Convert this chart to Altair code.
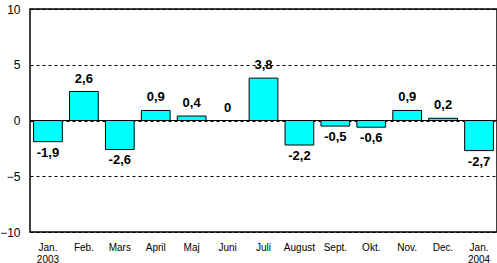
import altair as alt
import pandas as pd

months = ["Jan.|2003", "Feb.", "Mars", "April", "Maj", "Juni", "Juli",
          "August", "Sept.", "Okt.", "Nov.", "Dec.", "Jan.|2004"]
values = [-1.9, 2.6, -2.6, 0.9, 0.4, 0.0, 3.8, -2.2, -0.5, -0.6, 0.9, 0.2, -2.7]
labels = ["-1,9", "2,6", "-2,6", "0,9", "0,4", "0", "3,8", "-2,2", "-0,5",
          "-0,6", "0,9", "0,2", "-2,7"]
y_ticks = [-10, -5, 0, 5, 10]

df = pd.DataFrame({"month": months, "value": values, "label": labels})

FONT = "Liberation Sans"

x = alt.X("month:N", sort=months, title=None,
          scale=alt.Scale(paddingInner=0.2, paddingOuter=0.1),
          axis=alt.Axis(labelExpr="split(datum.label, '|')", labelAngle=0,
                        ticks=False, domain=False, labelFontSize=10,
                        labelFont=FONT, labelColor="black", labelPadding=10,
                        labelLineHeight=12, labelBaseline="top"))
y = alt.Y("value:Q", title=None,
          scale=alt.Scale(domain=[-10, 10], nice=False, zero=False),
          axis=alt.Axis(values=y_ticks, ticks=False, domain=False,
                        labelFontSize=12, labelFont=FONT, labelColor="black",
                        labelPadding=10, grid=True, gridColor="black",
                        gridDash=[3, 3], gridWidth=1, gridOpacity=1))

base = alt.Chart(df)

bars = base.mark_bar(color="#00FFFF", stroke="black", strokeWidth=1).encode(
    x=x, y=y, y2=alt.datum(0))

zero = alt.Chart(pd.DataFrame({"z": [0]})).mark_rule(color="black", strokeWidth=1).encode(
    y=alt.Y("z:Q", scale=alt.Scale(domain=[-10, 10], nice=False)))

pos = base.transform_filter("datum.value >= 0").mark_text(
    baseline="bottom", dy=-6, fontWeight="bold", fontSize=13, font=FONT,
    color="black").encode(x=alt.X("month:N", sort=months), y="value:Q", text="label:N")
neg = base.transform_filter("datum.value < 0").mark_text(
    baseline="top", dy=5, fontWeight="bold", fontSize=13, font=FONT,
    color="black").encode(x=alt.X("month:N", sort=months), y="value:Q", text="label:N")

chart = alt.layer(bars, zero, pos, neg).properties(
    width=467, height=223,
    padding={"left": 30, "top": 9, "right": 0, "bottom": 31},
    autosize=alt.AutoSizeParams(type="none"),
    background="white",
).configure_view(stroke="black", strokeWidth=1.5)

chart.save("out.html", embed_options={"renderer": "svg", "actions": False})
